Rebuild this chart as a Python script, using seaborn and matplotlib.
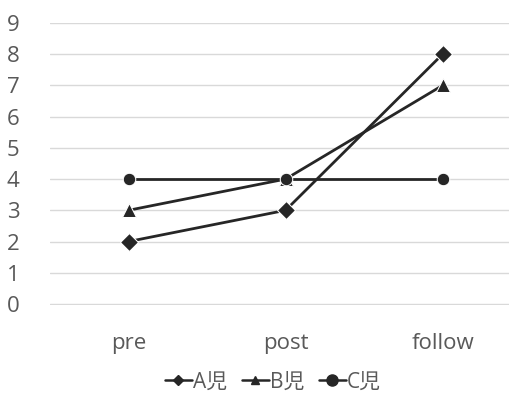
import pandas as pd
import matplotlib.pyplot as plt
import seaborn as sb

phases = ['pre', 'post', 'follow']
childA = [2, 3, 8]
childB = [3, 4, 7]
childC = [4, 4, 4]
names = ['A児', 'B児', 'C児']

Data = pd.DataFrame({
    'phase': phases * 3,
    'score': childA + childB + childC,
    'child': [n for n in names for _ in phases],
})
Data['x'] = Data['phase'].map({p: i for i, p in enumerate(phases)})

sb.set_style('white')
plt.rcParams['font.family'] = ['Open Sans', 'Noto Sans CJK JP', 'DejaVu Sans']

fig = plt.figure(figsize=(5.1, 3.94), dpi=100)
# plot area runs a bit past the right edge, like the cropped original
ax = fig.add_axes([0.098, 0.226, 0.924, 0.716])

line = sb.lineplot(data=Data, x='x', y='score', hue='child', style='child',
                   palette=['#262626'] * 3, markers={'A児': 'D', 'B児': '^', 'C児': 'o'},
                   dashes=False, markersize=9, linewidth=2, ax=ax, legend=False)
# triangles look small next to the others
ax.lines[1].set_markersize(10.5)

ax.set_xlim(-0.5, 2.5)
ax.set_ylim(-0.03, 9)
ax.set_yticks(range(10))
ax.set_xticks(range(3))
ax.set_xticklabels(phases)
ax.yaxis.grid(True, color='#d9d9d9', linewidth=1)
ax.set_axisbelow(True)
ax.set_xlabel('')
ax.set_ylabel('')
for s in ax.spines.values():
    s.set_visible(False)
ax.tick_params(axis='both', colors='#595959', labelsize=16, length=0)
ax.tick_params(axis='x', pad=20)
ax.tick_params(axis='y', pad=22)

handles = [plt.Line2D([], [], color='#262626', marker=m, markersize=ms, linewidth=1.8)
           for m, ms in zip(['D', '^', 'o'], [5, 6, 8])]
fig.legend(handles, names, loc='center', bbox_to_anchor=(0.535, 0.03), ncol=3,
           frameon=False, fontsize=15, handlelength=1.3, handletextpad=0.05,
           columnspacing=0.7, labelcolor='#595959')

fig.savefig('out.png', dpi=100)
